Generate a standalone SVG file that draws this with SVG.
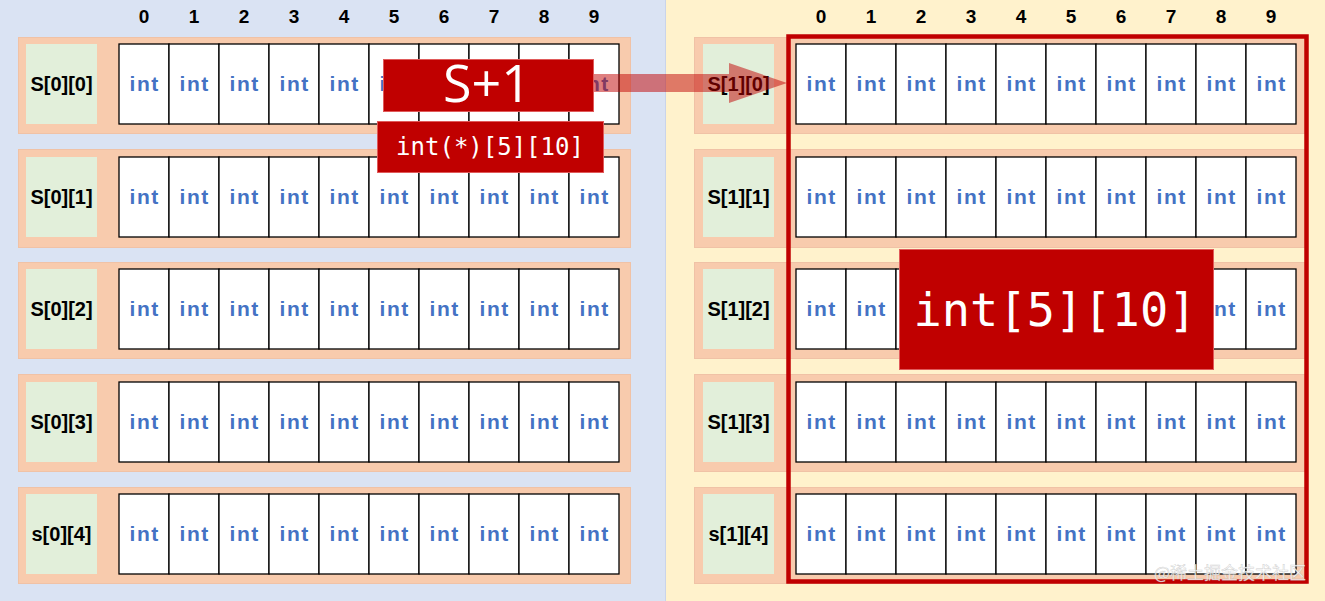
<svg xmlns="http://www.w3.org/2000/svg" width="1325" height="601" viewBox="0 0 1325 601">
<style>
.outer{fill:#f8cbad;stroke:#f0c2a6;stroke-width:1}
.lbl{fill:#e2efda}
.cell{fill:#ffffff;stroke:#000000;stroke-width:1.3}
.ltxt{font-family:"Liberation Sans",Arial,sans-serif;font-weight:bold;font-size:20px;fill:#000;text-anchor:middle}
.itxt{font-family:"Liberation Sans",Arial,sans-serif;font-weight:bold;font-size:21px;fill:#4472c4;text-anchor:middle;letter-spacing:1.5px}
.hdr{font-family:"Liberation Sans",Arial,sans-serif;font-weight:bold;font-size:19px;fill:#000;text-anchor:middle}
.redbox{fill:#c00000;stroke:#e05a5a;stroke-width:1}
.wtxt{fill:#ffffff;text-anchor:middle}
</style>
<defs>
<g id="cells">
<rect class="cell" x="0" y="0" width="50" height="80"/>
<rect class="cell" x="50" y="0" width="50" height="80"/>
<rect class="cell" x="100" y="0" width="50" height="80"/>
<rect class="cell" x="150" y="0" width="50" height="80"/>
<rect class="cell" x="200" y="0" width="50" height="80"/>
<rect class="cell" x="250" y="0" width="50" height="80"/>
<rect class="cell" x="300" y="0" width="50" height="80"/>
<rect class="cell" x="350" y="0" width="50" height="80"/>
<rect class="cell" x="400" y="0" width="50" height="80"/>
<rect class="cell" x="450" y="0" width="50" height="80"/>
<text class="itxt" x="25.7" y="46.5">int</text>
<text class="itxt" x="75.7" y="46.5">int</text>
<text class="itxt" x="125.7" y="46.5">int</text>
<text class="itxt" x="175.7" y="46.5">int</text>
<text class="itxt" x="225.7" y="46.5">int</text>
<text class="itxt" x="275.7" y="46.5">int</text>
<text class="itxt" x="325.7" y="46.5">int</text>
<text class="itxt" x="375.7" y="46.5">int</text>
<text class="itxt" x="425.7" y="46.5">int</text>
<text class="itxt" x="475.7" y="46.5">int</text>
</g>
</defs>
<rect x="0" y="0" width="665" height="601" fill="#dae3f3"/>
<rect x="666" y="0" width="659" height="601" fill="#fff2cc"/>
<line x1="665.5" y1="0" x2="665.5" y2="601" stroke="#c9d4ea" stroke-width="1"/>
<g id="headers-left">
<text class="hdr" x="144" y="23">0</text><text class="hdr" x="194" y="23">1</text><text class="hdr" x="244" y="23">2</text><text class="hdr" x="294" y="23">3</text><text class="hdr" x="344" y="23">4</text><text class="hdr" x="394" y="23">5</text><text class="hdr" x="444" y="23">6</text><text class="hdr" x="494" y="23">7</text><text class="hdr" x="544" y="23">8</text><text class="hdr" x="594" y="23">9</text>
</g>
<g id="headers-right">
<text class="hdr" x="821" y="23">0</text><text class="hdr" x="871" y="23">1</text><text class="hdr" x="921" y="23">2</text><text class="hdr" x="971" y="23">3</text><text class="hdr" x="1021" y="23">4</text><text class="hdr" x="1071" y="23">5</text><text class="hdr" x="1121" y="23">6</text><text class="hdr" x="1171" y="23">7</text><text class="hdr" x="1221" y="23">8</text><text class="hdr" x="1271" y="23">9</text>
</g>
<g id="row-0-0"><rect class="outer" x="18.5" y="37.5" width="612" height="96"/><rect class="lbl" x="26" y="44" width="71" height="80"/><text class="ltxt" x="61.5" y="91">S[0][0]</text><use href="#cells" x="119" y="44"/></g>
<g id="row-0-1"><rect class="outer" x="18.5" y="149.5" width="612" height="98"/><rect class="lbl" x="26" y="157" width="71" height="80"/><text class="ltxt" x="61.5" y="204">S[0][1]</text><use href="#cells" x="119" y="157"/></g>
<g id="row-0-2"><rect class="outer" x="18.5" y="262.5" width="612" height="96"/><rect class="lbl" x="26" y="269" width="71" height="80"/><text class="ltxt" x="61.5" y="316">S[0][2]</text><use href="#cells" x="119" y="269"/></g>
<g id="row-0-3"><rect class="outer" x="18.5" y="374.5" width="612" height="97"/><rect class="lbl" x="26" y="382" width="71" height="80"/><text class="ltxt" x="61.5" y="429">S[0][3]</text><use href="#cells" x="119" y="382"/></g>
<g id="row-0-4"><rect class="outer" x="18.5" y="487.5" width="612" height="96"/><rect class="lbl" x="26" y="494" width="71" height="80"/><text class="ltxt" x="61.5" y="541">s[0][4]</text><use href="#cells" x="119" y="494"/></g>
<g id="row-1-0"><rect class="outer" x="694.5" y="37.5" width="612" height="96"/><rect class="lbl" x="703" y="44" width="71" height="80"/><text class="ltxt" x="738.5" y="91">S[1][0]</text><use href="#cells" x="796" y="44"/></g>
<g id="row-1-1"><rect class="outer" x="694.5" y="149.5" width="612" height="98"/><rect class="lbl" x="703" y="157" width="71" height="80"/><text class="ltxt" x="738.5" y="204">S[1][1]</text><use href="#cells" x="796" y="157"/></g>
<g id="row-1-2"><rect class="outer" x="694.5" y="262.5" width="612" height="96"/><rect class="lbl" x="703" y="269" width="71" height="80"/><text class="ltxt" x="738.5" y="316">S[1][2]</text><use href="#cells" x="796" y="269"/></g>
<g id="row-1-3"><rect class="outer" x="694.5" y="374.5" width="612" height="97"/><rect class="lbl" x="703" y="382" width="71" height="80"/><text class="ltxt" x="738.5" y="429">S[1][3]</text><use href="#cells" x="796" y="382"/></g>
<g id="row-1-4"><rect class="outer" x="694.5" y="487.5" width="612" height="96"/><rect class="lbl" x="703" y="494" width="71" height="80"/><text class="ltxt" x="738.5" y="541">s[1][4]</text><use href="#cells" x="796" y="494"/></g>
<g id="connectors">
<polygon points="588,74 729,74 729,63 787,83 729,103 729,92 588,92" fill="#c00000" fill-opacity="0.5"/>
</g>
<g id="frame-s1">
<rect x="788.5" y="36.5" width="518" height="545" fill="none" stroke="#c00000" stroke-width="4.5"/>
</g>
<g id="label-s-plus-1">
<rect class="redbox" x="383.5" y="59.5" width="210" height="52"/>
<text class="wtxt" x="487" y="102" font-family="'Open Sans','Liberation Sans',sans-serif" font-size="52">S+1</text>
</g>
<g id="label-type-ptr">
<rect class="redbox" x="377.5" y="121.5" width="226" height="51"/>
<text class="wtxt" x="490" y="155" font-family="'DejaVu Sans Mono','Liberation Mono',monospace" font-size="24">int(*)[5][10]</text>
</g>
<g id="label-type-arr">
<rect class="redbox" x="899.5" y="249.5" width="314" height="120"/>
<text class="wtxt" x="1055" y="326" font-family="'DejaVu Sans Mono','Liberation Mono',monospace" font-size="47">int[5][10]</text>
</g>
<text x="1306" y="579" text-anchor="end" font-family="'Noto Sans CJK SC',sans-serif" font-size="17" fill="#ffffff" fill-opacity="0.85" stroke="#b0b0b0" stroke-width="0.5" stroke-opacity="0.6">@稀土掘金技术社区</text>
</svg>
